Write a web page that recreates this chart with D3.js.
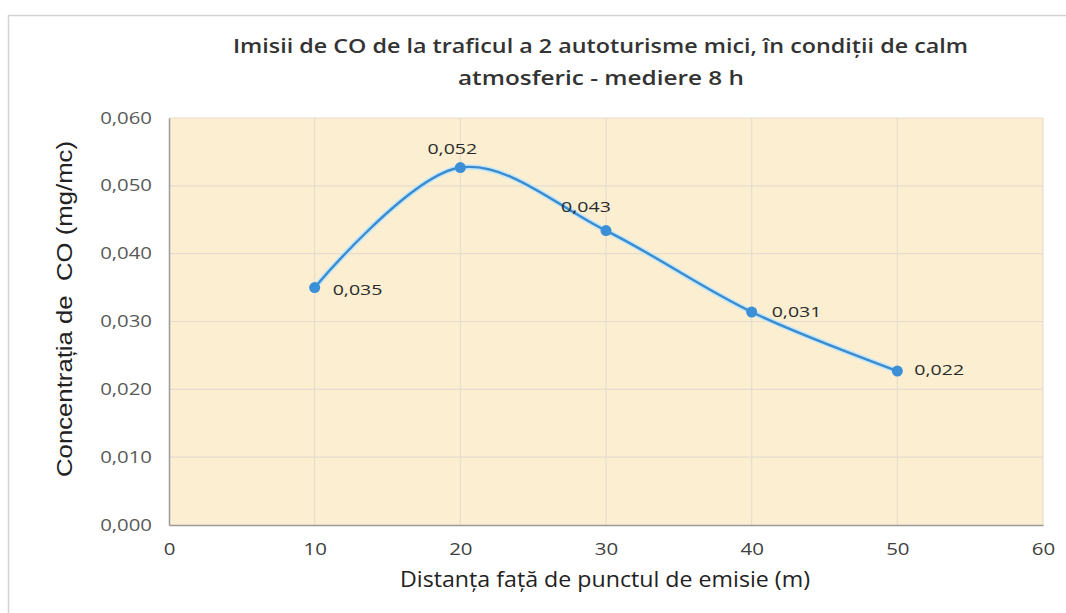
<!DOCTYPE html>
<html><head><meta charset="utf-8">
<script src="https://cdn.jsdelivr.net/npm/d3@7/dist/d3.min.js"></script>
<style>body{margin:0;background:#fff}svg{display:block}</style>
</head><body><svg id="c" width="1066" height="613"></svg>
<script>
const distances = [10, 20, 30, 40, 50];
const concentrations = [0.0350, 0.0527, 0.0434, 0.0314, 0.0227];
const valueLabels = ["0,035", "0,052", "0,043", "0,031", "0,022"];
const xTicks = [0, 10, 20, 30, 40, 50, 60];
const yTicks = [0, 0.01, 0.02, 0.03, 0.04, 0.05, 0.06];
const titleLines = ["Imisii de CO de la traficul a 2 autoturisme mici, în condiții de calm", "atmosferic - mediere 8 h"];
const xTitle = "Distanța față de punctul de emisie (m)";
const yTitle = "Concentrația de  CO (mg/mc)";

const svg = d3.select("#c");
const L = 169, R = 1043, T = 118, B = 525;
const x = d3.scaleLinear().domain([0, 60]).range([L, R]);
const y = d3.scaleLinear().domain([0, 0.06]).range([B, T]);
const fmt = d => d3.format(".3f")(d).replace(".", ",");
const numFont = "'Open Sans', sans-serif";
// widen numerals like the scanned original
const numWidth = s => s.split("").reduce((a, c) => a + (c === "," ? 5 : 11.7), 0);

// outer frame
svg.append("path").attr("d", `M8.5,613 L8.5,15.5 L1066,15.5`).attr("fill","none").attr("stroke","#d4d4d4").attr("stroke-width",1.5);

// plot bg
svg.append("rect").attr("x", L).attr("y", T).attr("width", R-L).attr("height", B-T).attr("fill", "#fcefd1");

// grid
svg.append("g").selectAll("line").data(yTicks.slice(1)).join("line")
  .attr("x1", L).attr("x2", R).attr("y1", d=>y(d)).attr("y2", d=>y(d))
  .attr("stroke", "#e5dccd").attr("stroke-width", 1.2);
svg.append("g").selectAll("line").data(xTicks.slice(1)).join("line")
  .attr("y1", T).attr("y2", B).attr("x1", d=>x(d)).attr("x2", d=>x(d))
  .attr("stroke", "#e8dccb").attr("stroke-width", 1.2);

// axes
const ya = svg.append("g").attr("transform", `translate(${L},0)`)
  .call(d3.axisLeft(y).tickValues(yTicks).tickFormat(fmt).tickSize(0).tickPadding(17));
ya.select(".domain").attr("stroke", "#9a9a9a").attr("stroke-width", 1.5);
ya.selectAll("text").attr("font-family", numFont).attr("font-size", 16).attr("fill", "#595959")
  .attr("textLength", function(){ return numWidth(this.textContent); }).attr("lengthAdjust", "spacingAndGlyphs");

const xa = svg.append("g").attr("transform", `translate(0,${B})`)
  .call(d3.axisBottom(x).tickValues(xTicks).tickFormat(d3.format("d")).tickSize(0).tickPadding(18));
xa.select(".domain").attr("stroke", "#9a9a9a").attr("stroke-width", 1.5);
xa.selectAll("text").attr("font-family", numFont).attr("font-size", 17).attr("fill", "#404040")
  .attr("textLength", function(){ return numWidth(this.textContent); }).attr("lengthAdjust", "spacingAndGlyphs");

// line
const pts = distances.map((d,i)=>[d, concentrations[i]]);
const line = d3.line().x(d=>x(d[0])).y(d=>y(d[1])).curve(d3.curveCatmullRom.alpha(0.5));
svg.append("path").datum(pts).attr("d", line).attr("fill","none").attr("stroke","#c4e6f8").attr("stroke-width",5.5);
svg.append("path").datum(pts).attr("d", line).attr("fill","none").attr("stroke","#3a8cce").attr("stroke-width",2.4);
svg.append("g").selectAll("circle").data(pts).join("circle")
  .attr("cx", d=>x(d[0])).attr("cy", d=>y(d[1])).attr("r", 5.5).attr("fill", "#3b8fd6");

// data labels (Excel: right of point, except the two moved above)
const dx = [18, -8, -20, 20, 17], dy = [7, -14, -19, 5, 4];
svg.append("g").selectAll("text").data(pts).join("text")
  .attr("x", (d,i)=> x(d[0]) + dx[i])
  .attr("y", (d,i)=> y(d[1]) + dy[i])
  .attr("text-anchor", (d,i)=> (i===1||i===2) ? "middle" : "start")
  .attr("font-family", numFont).attr("font-size", 15).attr("fill", "#2b2b2b")
  .attr("textLength", (d,i)=> numWidth(valueLabels[i]) - 2).attr("lengthAdjust", "spacingAndGlyphs")
  .text((d,i)=>valueLabels[i]);

// title
const tf = "'Liberation Sans Narrow','Open Sans',sans-serif";
svg.append("text").attr("x", 233).attr("y", 53).attr("textLength", 735).attr("lengthAdjust","spacingAndGlyphs")
  .attr("font-family", tf).attr("font-weight", 600).attr("font-size", 19).attr("fill","#333").text(titleLines[0]);
svg.append("text").attr("x", 458).attr("y", 85).attr("textLength", 286).attr("lengthAdjust","spacingAndGlyphs")
  .attr("font-family", tf).attr("font-weight", 600).attr("font-size", 19).attr("fill","#333").text(titleLines[1]);

// axis titles
svg.append("text").attr("x", 400).attr("y", 587).attr("textLength", 410).attr("lengthAdjust","spacingAndGlyphs")
  .attr("font-family", tf).attr("font-size", 21).attr("fill","#222").text(xTitle);
svg.append("text").attr("transform", "translate(72,309) rotate(-90)").attr("text-anchor","middle")
  .style("white-space", "pre")
  .attr("textLength", 336).attr("lengthAdjust","spacingAndGlyphs")
  .attr("font-family", "'Liberation Sans', Arial, sans-serif").attr("font-size", 22).attr("fill","#222").text(yTitle);
</script></body></html>
